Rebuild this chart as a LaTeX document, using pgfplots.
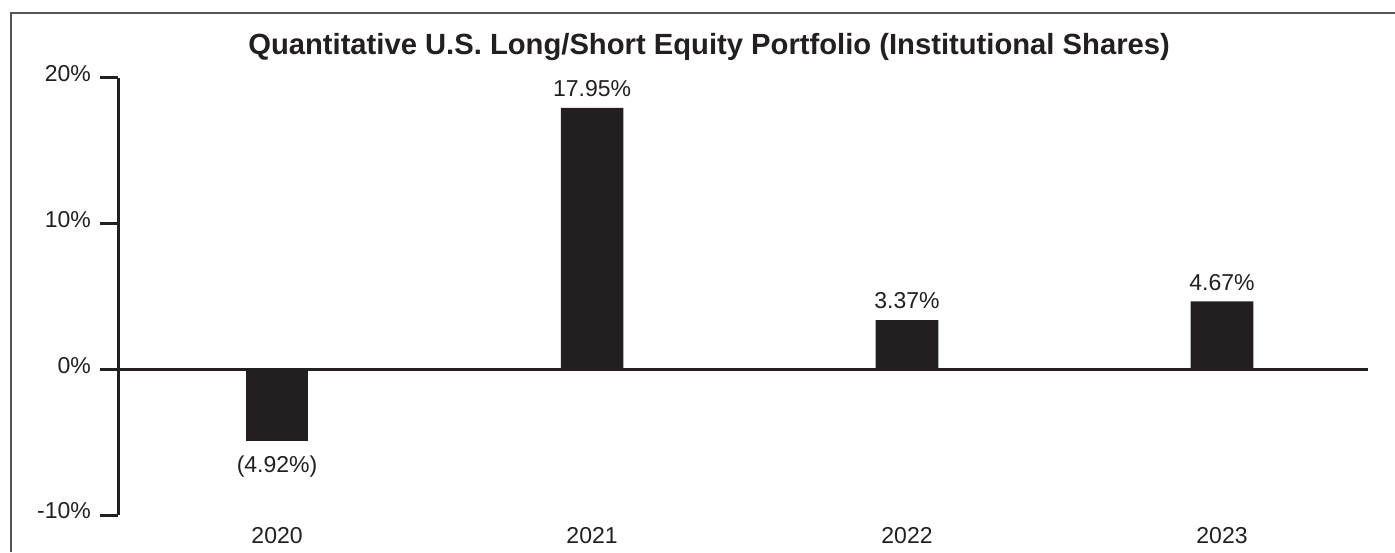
\documentclass[border=0pt]{standalone}
\usepackage{pgfplots}
\pgfplotsset{compat=1.18}
\usepackage{fontspec}
\setmainfont{Liberation Sans}
\definecolor{ink}{HTML}{231F20}
\definecolor{frame}{HTML}{555555}
\begin{document}
\begin{tikzpicture}
\useasboundingbox (0,0) rectangle (697.5pt,276pt);
% frame (top and left only, cut by the image edges)
\draw[frame, line width=1pt] (5.5pt,0pt) -- (5.5pt,269.5pt) -- (697.5pt,269.5pt);
\node[text=ink, font=\fontsize{14.6}{17}\selectfont\bfseries] at (354.5pt,252.5pt)
  {Quantitative U.S. Long/Short Equity Portfolio (Institutional Shares)};
\begin{axis}[
  at={(59pt,18.5pt)}, anchor=south west,
  scale only axis, width=625pt, height=218.5pt,
  xmin=-0.505, xmax=3.4635, ymin=-10, ymax=20,
  clip=false,
  axis y line*=left, axis x line*=bottom,
  x axis line style={draw=none},
  y axis line style={ink, line width=1.5pt},
  tick align=outside,
  major tick length=9pt,
  ytick={-10,0,10,20},
  yticklabels={-10\%,0\%,10\%,20\%},
  ytick style={ink, line width=1.5pt},
  xtick={0,1,2,3},
  xticklabels={2020,2021,2022,2023},
  xtick style={draw=none},
  tick label style={text=ink, font=\fontsize{11.5}{13}\selectfont},
  x tick label style={yshift=6.5pt},
  y tick label style={xshift=-1pt, yshift=2pt},
]
\addplot[ybar, bar width=31.3pt, fill=ink, draw=none,
  point meta=explicit symbolic,
  nodes near coords,
  nodes near coords style={text=ink, font=\fontsize{11.5}{13}\selectfont, anchor=south, yshift=2pt},
] coordinates {
  (1,17.95) [17.95\%]
  (2,3.37) [3.37\%]
  (3,4.67) [4.67\%]
};
\addplot[ybar, bar width=31.3pt, fill=ink, draw=none,
  point meta=explicit symbolic,
  nodes near coords,
  nodes near coords style={text=ink, font=\fontsize{11.5}{13}\selectfont, anchor=north, yshift=-4pt},
] coordinates {
  (0,-4.92) [(4.92\%)]
};
\addplot[ink, line width=1.5pt, mark=none, forget plot] coordinates {(-0.505,0) (3.4635,0)};
\end{axis}
\end{tikzpicture}
\end{document}
